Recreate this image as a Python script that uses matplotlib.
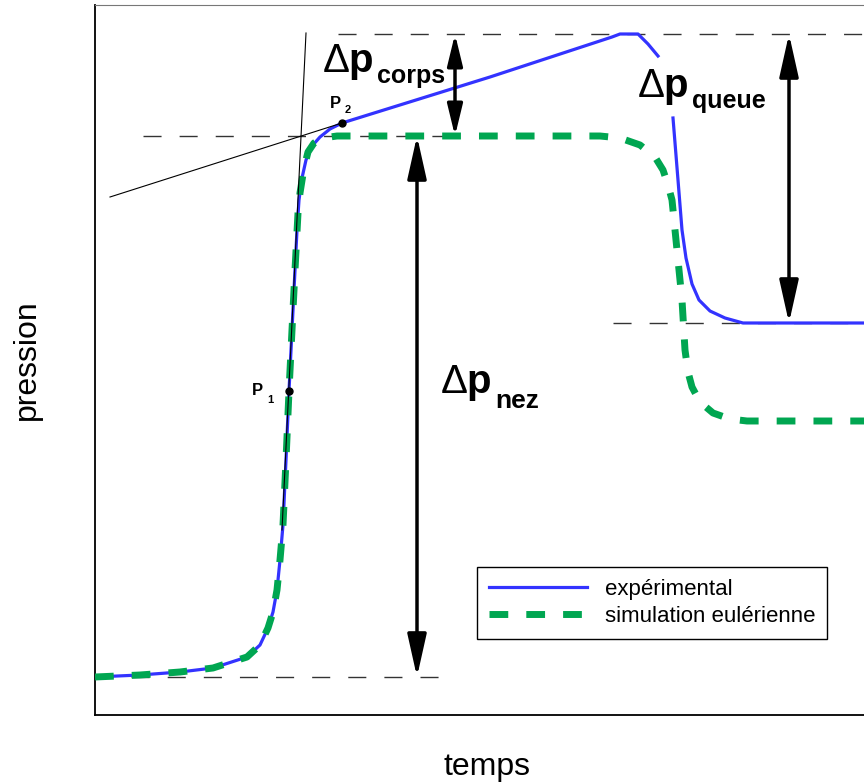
import numpy as np
import matplotlib
matplotlib.use("Agg")
from matplotlib import pyplot as plt

plt.rcParams['font.family'] = ['Liberation Sans', 'DejaVu Sans']
plt.rcParams['mathtext.fontset'] = 'custom'
plt.rcParams['mathtext.rm'] = 'Liberation Sans'
plt.rcParams['mathtext.bf'] = 'Liberation Sans:bold'
plt.rcParams['mathtext.it'] = 'Liberation Sans:italic'

# courbe experimentale (temps, pression) - unites arbitraires
t_exp = [0, 45, 85, 118, 152, 165, 173, 178, 182, 185, 188, 191, 194, 197, 200, 202,
         204, 207, 211, 217, 225, 235, 247, 395, 517, 525, 543, 553, 563,
         np.nan,
         578, 583, 587, 591, 597, 604, 615, 630, 648, 785]
p_exp = [38, 40, 43, 47, 58, 70, 87, 103, 125, 155, 190, 255, 324, 385, 445, 485,
         515, 537, 555, 569, 578, 586, 592, 638, 678, 681, 681, 671, 659,
         np.nan,
         597, 535, 485, 457, 431, 415, 404, 397, 392, 392]

# simulation eulerienne
t_sim = [0, 45, 85, 118, 152, 165, 173, 178, 182, 185, 188, 191, 194, 197, 200, 203,
         205, 209, 213, 219, 228, 242, 505, 525, 545, 560, 568, 573, 577, 582,
         587, 590, 593, 597, 605, 618, 635, 652, 785]
p_sim = [38, 40, 43, 47, 58, 70, 87, 103, 125, 155, 190, 255, 324, 385, 445, 502,
         522, 547, 563, 572, 577, 579, 579, 577, 570, 558, 545, 530, 515, 465,
         415, 365, 343, 328, 313, 302, 296, 294, 294]

# niveaux de pression
p_init = 38
p_plateau = 579
p_peak = 681
p_queue = 392

# points P1, P2
P1 = (194, 324)
P2 = (247, 592)

fig = plt.figure(figsize=(8.64, 7.82), dpi=100)
ax = fig.add_axes([95 / 864, 67 / 782, 785 / 864, 710 / 782])
ax.set_xlim(0, 785)
ax.set_ylim(0, 710)

# lignes de reference pointillees
ref = dict(color='#333333', lw=1.0, linestyle=(0, (13, 13)), zorder=1)
ax.plot([243, 785], [p_peak, p_peak], **ref)
ax.plot([48, 370], [p_plateau, p_plateau], **ref)
ax.plot([518, 785], [p_queue, p_queue], **ref)
ax.plot([0, 350], [p_init, p_init], **ref)

# tangentes
ax.plot([211, 187], [682, 185], color='k', lw=0.8, zorder=4)
ax.plot([15, P2[0]], [518, P2[1]], color='k', lw=0.8, zorder=4)

ax.plot(t_exp, p_exp, color='#3333ff', lw=2.3, label='expérimental', zorder=2)
ax.plot(t_sim, p_sim, color='#00a651', lw=5, dashes=(2.7, 2.6),
        label='simulation eulérienne', zorder=3)

ax.plot(*P1, 'o', color='k', ms=5, zorder=5)
ax.plot(*P2, 'o', color='k', ms=5, zorder=5)

# fleches
def double_arrow(x, y0, y1, hl, hw):
    ax.annotate('', xy=(x, y1), xytext=(x, y0),
                arrowprops=dict(arrowstyle=f'<|-|>,head_length={hl},head_width={hw}',
                                lw=2.5, color='k', shrinkA=0, shrinkB=0,
                                mutation_scale=1), zorder=6)

double_arrow(360, p_plateau, p_peak, 19, 4.6)
double_arrow(322, p_init, p_plateau, 26, 5.8)
double_arrow(694, p_queue, p_peak, 26, 5.8)

# etiquettes
dp = r'$\Delta\mathbf{p}$'
ax.text(227, 643, dp, fontsize=29, ha='left', va='baseline')
ax.text(282, 632, 'corps', fontsize=18, fontweight='bold', ha='left', va='baseline')
ax.text(542, 618, dp, fontsize=29, ha='left', va='baseline')
ax.text(597, 607, 'queue', fontsize=18, fontweight='bold', ha='left', va='baseline')
ax.text(345, 322, dp, fontsize=29, ha='left', va='baseline')
ax.text(400, 307, 'nez', fontsize=19, fontweight='bold', ha='left', va='baseline')

ax.text(235, 607, 'P', fontsize=12, fontweight='bold', ha='left', va='baseline')
ax.text(250, 602, '2', fontsize=8, fontweight='bold', ha='left', va='baseline')
ax.text(157, 320, 'P', fontsize=12, fontweight='bold', ha='left', va='baseline')
ax.text(172, 312, '1', fontsize=8, fontweight='bold', ha='left', va='baseline')

leg = ax.legend(loc='upper left', bbox_to_anchor=((477 - 95) / 785, (715 - 567) / 710),
                borderaxespad=0, fontsize=16, handlelength=4.4, handletextpad=0.8,
                borderpad=0.54, labelspacing=0.27, fancybox=False, framealpha=1)
leg.get_frame().set_edgecolor('k')
leg.get_frame().set_linewidth(1.0)

ax.set_xticks([])
ax.set_yticks([])
ax.set_xlabel('temps', fontsize=23, labelpad=27)
ax.set_ylabel('pression', fontsize=23, labelpad=38)
for s in ['left', 'bottom']:
    ax.spines[s].set_linewidth(1.3)
ax.spines['top'].set_color('#777777')

fig.savefig('out.png', dpi=100)
